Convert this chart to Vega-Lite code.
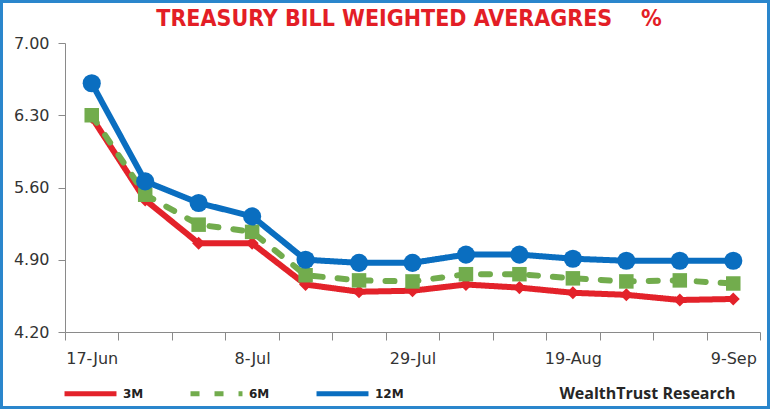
{
  "$schema": "https://vega.github.io/schema/vega-lite/v6.json",
  "width": 770,
  "height": 409,
  "autosize": {"type": "none"},
  "padding": 0,
  "background": "white",
  "config": {
    "view": {"stroke": "#2A86CC", "strokeWidth": 6},
    "font": "DejaVu Sans"
  },
  "title": {
    "text": "TREASURY BILL WEIGHTED AVERAGRES\u00a0\u00a0\u00a0\u00a0%",
    "font": "Liberation Sans Narrow, DejaVu Sans Condensed, Roboto Condensed, Liberation Sans, sans-serif",
    "fontSize": 23,
    "fontWeight": "bold",
    "color": "#E31E26",
    "anchor": "middle",
    "dx": 24,
    "offset": -31
  },
  "data": {
    "values": [
      {"date": "17-Jun", "series": "3M", "value": 6.28},
      {"date": "24-Jun", "series": "3M", "value": 5.48},
      {"date": "1-Jul", "series": "3M", "value": 5.06},
      {"date": "8-Jul", "series": "3M", "value": 5.06},
      {"date": "15-Jul", "series": "3M", "value": 4.66},
      {"date": "22-Jul", "series": "3M", "value": 4.59},
      {"date": "29-Jul", "series": "3M", "value": 4.60},
      {"date": "5-Aug", "series": "3M", "value": 4.66},
      {"date": "12-Aug", "series": "3M", "value": 4.63},
      {"date": "19-Aug", "series": "3M", "value": 4.58},
      {"date": "26-Aug", "series": "3M", "value": 4.56},
      {"date": "2-Sep", "series": "3M", "value": 4.51},
      {"date": "9-Sep", "series": "3M", "value": 4.52},
      {"date": "17-Jun", "series": "6M", "value": 6.30},
      {"date": "24-Jun", "series": "6M", "value": 5.53},
      {"date": "1-Jul", "series": "6M", "value": 5.24},
      {"date": "8-Jul", "series": "6M", "value": 5.17},
      {"date": "15-Jul", "series": "6M", "value": 4.75},
      {"date": "22-Jul", "series": "6M", "value": 4.70},
      {"date": "29-Jul", "series": "6M", "value": 4.69},
      {"date": "5-Aug", "series": "6M", "value": 4.76},
      {"date": "12-Aug", "series": "6M", "value": 4.76},
      {"date": "19-Aug", "series": "6M", "value": 4.72},
      {"date": "26-Aug", "series": "6M", "value": 4.69},
      {"date": "2-Sep", "series": "6M", "value": 4.70},
      {"date": "9-Sep", "series": "6M", "value": 4.67},
      {"date": "17-Jun", "series": "12M", "value": 6.61},
      {"date": "24-Jun", "series": "12M", "value": 5.66},
      {"date": "1-Jul", "series": "12M", "value": 5.45},
      {"date": "8-Jul", "series": "12M", "value": 5.32},
      {"date": "15-Jul", "series": "12M", "value": 4.90},
      {"date": "22-Jul", "series": "12M", "value": 4.87},
      {"date": "29-Jul", "series": "12M", "value": 4.87},
      {"date": "5-Aug", "series": "12M", "value": 4.95},
      {"date": "12-Aug", "series": "12M", "value": 4.95},
      {"date": "19-Aug", "series": "12M", "value": 4.91},
      {"date": "26-Aug", "series": "12M", "value": 4.89},
      {"date": "2-Sep", "series": "12M", "value": 4.89},
      {"date": "9-Sep", "series": "12M", "value": 4.89}
    ]
  },
  "encoding": {
    "x": {
      "field": "date",
      "type": "ordinal",
      "sort": null,
      "scale": {"type": "band", "range": [65, 760], "paddingInner": 0, "paddingOuter": 0},
      "axis": {
        "offset": -77,
        "tickBand": "extent",
        "labelExpr": "indexof(['17-Jun','8-Jul','29-Jul','19-Aug','9-Sep'], datum.value) >= 0 ? datum.value : ''",
        "labelAngle": 0,
        "labelFontSize": 16,
        "labelColor": "#333333",
        "labelPadding": 10,
        "tickSize": 8,
        "tickColor": "#8A8A8A",
        "domainColor": "#8A8A8A",
        "grid": false,
        "title": "WealthTrust Research",
        "titleFont": "Open Sans",
        "titleFontSize": 16,
        "titleFontWeight": "bold",
        "titleColor": "#262626",
        "titleAnchor": "start",
        "titleAlign": "right",
        "titleX": 735,
        "titleY": 66,
        "titleBaseline": "alphabetic"
      }
    },
    "y": {
      "field": "value",
      "type": "quantitative",
      "scale": {"domain": [4.2, 7.0], "range": [332, 43], "nice": false, "zero": false},
      "axis": {
        "offset": -65,
        "values": [4.2, 4.9, 5.6, 6.3, 7.0],
        "format": ".2f",
        "labelFontSize": 16,
        "labelColor": "#333333",
        "labelPadding": 9,
        "tickSize": 7,
        "tickColor": "#8A8A8A",
        "domainColor": "#8A8A8A",
        "grid": false,
        "title": null
      }
    },
    "color": {
      "field": "series",
      "type": "nominal",
      "scale": {"domain": ["3M", "6M", "12M"], "range": ["#E3222A", "#72AC4D", "#0A6EC0"]},
      "legend": {
        "orient": "none",
        "legendX": 62,
        "legendY": 365,
        "direction": "horizontal",
        "title": null,
        "symbolType": "stroke",
        "symbolSize": 2700,
        "symbolStrokeWidth": 5,
        "labelFont": "DejaVu Sans",
        "labelFontWeight": "bold",
        "labelFontSize": 12,
        "labelColor": "#222222",
        "labelOffset": 4,
        "columnPadding": 28,
        "gridAlign": "all"
      }
    }
  },
  "layer": [
    {
      "mark": {"type": "line", "strokeWidth": 6, "strokeCap": "round", "strokeJoin": "round"},
      "encoding": {
        "strokeDash": {
          "field": "series",
          "type": "nominal",
          "scale": {"domain": ["3M", "6M", "12M"], "range": [[1, 0], [9, 15], [1, 0]]},
          "legend": {
            "orient": "none",
            "legendX": 62,
            "legendY": 365,
            "direction": "horizontal",
            "title": null
          }
        }
      }
    },
    {
      "transform": [{"filter": "datum.series === '3M'"}],
      "mark": {"type": "point", "shape": "diamond", "size": 170, "filled": true, "opacity": 1}
    },
    {
      "transform": [{"filter": "datum.series === '6M'"}],
      "mark": {"type": "point", "shape": "square", "size": 210, "filled": true, "opacity": 1}
    },
    {
      "transform": [{"filter": "datum.series === '12M'"}],
      "mark": {"type": "point", "shape": "circle", "size": 330, "filled": true, "opacity": 1}
    }
  ]
}
